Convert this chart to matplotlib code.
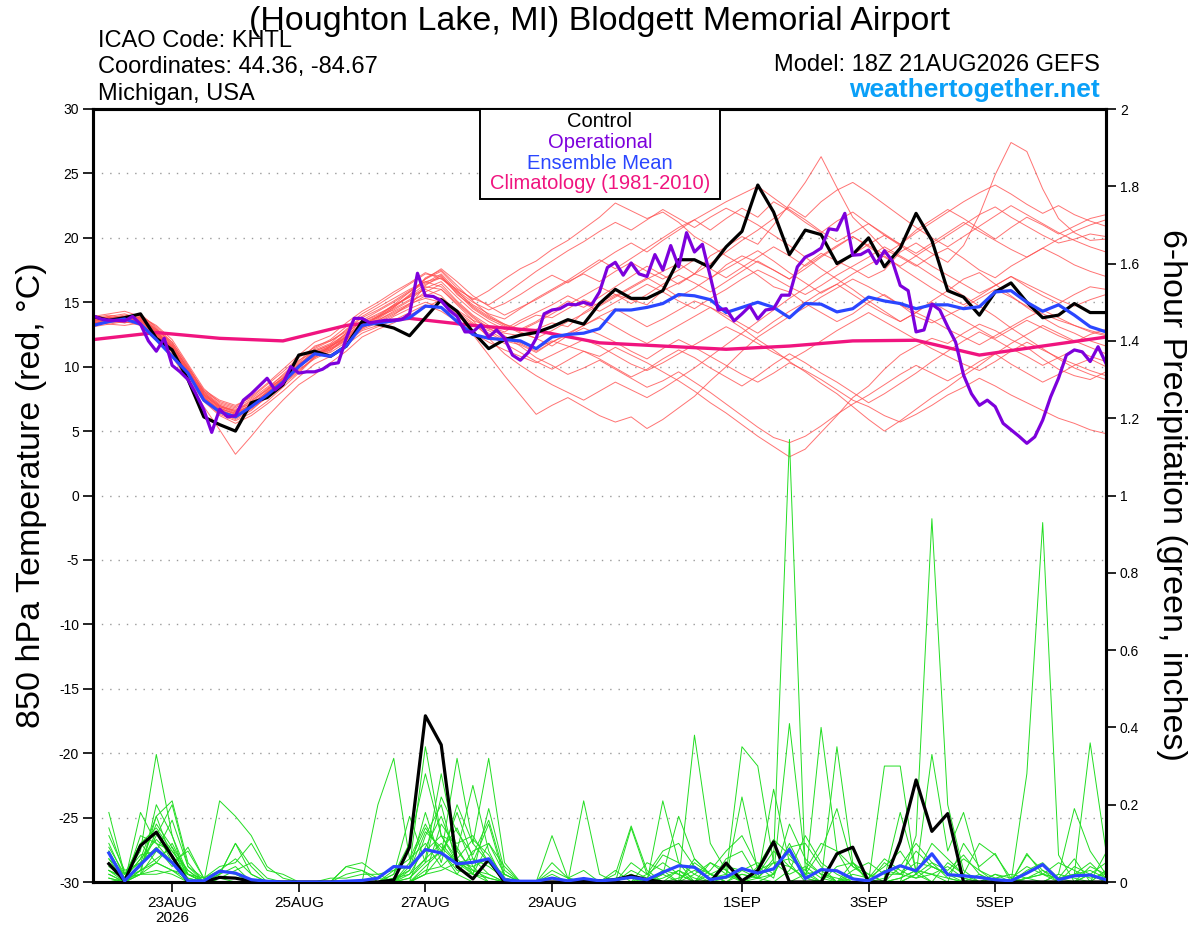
import matplotlib
matplotlib.use("Agg")
import matplotlib.pyplot as plt
import pandas as pd
from matplotlib.patches import Rectangle

# ---- time axes ----
times_6h = pd.date_range("2026-08-21 18:00", periods=65, freq="6h")
times_3h = pd.date_range("2026-08-21 18:00", periods=129, freq="3h")
precip_times = pd.date_range("2026-08-22 00:00", periods=64, freq="6h")
clim_times = pd.date_range("2026-08-21 18:00", periods=17, freq="D")

tick_dates = ["2026-08-23", "2026-08-25", "2026-08-27", "2026-08-29",
              "2026-09-01", "2026-09-03", "2026-09-05"]
tick_labels = ["23AUG\n2026", "25AUG", "27AUG", "29AUG", "1SEP", "3SEP", "5SEP"]

# ---- 850 hPa temperature (C) ----
control_temp = [13.9, 13.6, 13.8, 14.1, 12.2, 11.3, 9.0, 6.1, 5.5, 5.0,
                7.2, 7.6, 8.6, 10.9, 11.2, 10.8, 11.6, 13.5, 13.3, 13.0,
                12.4, 13.8, 15.2, 14.3, 12.7, 11.4, 12.1, 12.45, 12.65, 13.1,
                13.65, 13.3, 14.9, 16.0, 15.3, 15.3, 15.9, 18.3, 18.3, 17.7,
                19.3, 20.5, 24.1, 22.0, 18.7, 20.6, 20.25, 18.0, 18.7, 20.0,
                17.75, 19.2, 21.9, 19.8, 15.9, 15.4, 14.0, 15.8, 16.5, 15.0,
                13.8, 14.0, 14.9, 14.2, 14.2]

mean_temp = [13.2, 13.5, 13.7, 13.3, 12.1, 10.8, 9.5, 7.4, 6.5, 6.1,
             6.9, 7.8, 8.8, 10.0, 11.0, 10.8, 11.6, 13.2, 13.4, 13.55,
             13.8, 14.7, 14.6, 13.5, 12.5, 12.2, 12.1, 12.0, 11.4, 12.3,
             12.5, 12.6, 12.95, 14.4, 14.4, 14.6, 14.9, 15.6, 15.5, 15.2,
             14.2, 14.6, 15.0, 14.6, 13.8, 14.9, 14.85, 14.25, 14.5, 15.4,
             15.1, 14.9, 14.5, 14.8, 14.8, 14.5, 14.65, 15.8, 15.9, 15.0,
             14.3, 14.8, 14.0, 13.1, 12.7]

oper_temp = [13.95, 13.7, 13.6, 13.6, 13.55, 13.9, 13.3, 12.0, 11.2, 12.2,
             10.1, 9.6, 9.0, 7.9, 6.65, 4.9, 6.7, 6.1, 6.2, 7.4,
             7.9, 8.5, 9.1, 8.2, 8.7, 10.0, 9.5, 9.6, 9.6, 9.8,
             10.2, 10.3, 12.2, 13.75, 13.75, 13.4, 13.5, 13.6, 13.6, 13.65,
             14.1, 17.25, 15.5, 15.45, 15.1, 14.4, 13.9, 12.7, 12.7, 13.25,
             12.3, 12.85, 12.2, 10.9, 10.5, 11.1, 12.2, 14.1, 14.4, 14.5,
             14.85, 14.8, 15.0, 14.8, 15.8, 17.7, 18.1, 17.1, 18.05, 17.2,
             17.0, 18.7, 17.5, 19.4, 17.75, 20.4, 18.9, 19.5, 17.0, 14.4,
             14.5, 13.55, 14.1, 14.7, 13.7, 14.4, 14.5, 15.55, 15.55, 17.75,
             18.5, 18.8, 19.2, 20.7, 20.6, 21.9, 18.65, 18.7, 19.05, 18.0,
             19.0, 18.2, 16.3, 15.9, 12.7, 12.85, 14.85, 14.4, 13.1, 11.9,
             9.35, 7.9, 7.0, 7.4, 6.9, 5.6, 5.1, 4.6, 4.05, 4.55,
             5.85, 7.65, 9.1, 10.9, 11.3, 11.15, 10.4, 11.55, 10.25]

clim_temp = [12.1, 12.65, 12.2, 12.0, 13.2, 13.75, 13.2, 12.8, 11.85,
             11.6, 11.35, 11.6, 12.0, 12.05, 10.9, 11.6, 12.3]

temp_m01 = [13.6, 13.8, 13.9, 14.0, 12.9, 11.8, 9.8, 7.9, 6.9, 6.4, 7.0, 7.8, 8.9, 10.2, 11.0,
            11.4, 12.1, 13.0, 13.6, 14.2, 14.8, 15.5, 16.0, 14.9, 13.8, 12.9, 12.6, 12.4, 12.9, 13.4,
            13.1, 14.2, 15.0, 15.6, 15.2, 14.8, 15.9, 16.5, 17.2, 16.8, 17.9, 18.6, 18.1, 17.5, 16.8,
            17.9, 18.8, 18.2, 17.6, 16.9, 17.5, 18.9, 19.6, 18.8, 18.1, 19.4, 21.8, 24.9, 27.4, 26.7,
            23.8, 21.5, 20.4, 19.8, 19.9]
temp_m02 = [13.4, 13.5, 13.7, 13.6, 12.4, 11.2, 9.5, 7.6, 6.6, 6.2, 6.8, 7.9, 8.6, 9.6, 10.8,
            11.1, 11.9, 12.8, 13.2, 13.9, 14.5, 15.0, 14.6, 13.9, 13.2, 12.8, 12.1, 11.9, 11.4, 12.0,
            11.6, 11.2, 10.8, 11.5, 10.9, 10.3, 9.6, 8.9, 8.1, 7.2, 6.4, 5.5, 4.6, 3.8, 3.0,
            3.6, 4.9, 6.2, 7.6, 8.5, 9.8, 10.9, 11.6, 12.2, 11.8, 12.6, 13.3, 12.8, 12.1, 11.5,
            10.6, 9.8, 9.3, 9.0, 9.6]
temp_m03 = [13.9, 14.1, 14.3, 13.9, 13.2, 12.1, 10.2, 8.3, 7.2, 6.8, 7.5, 8.4, 9.3, 10.4, 11.6,
            12.0, 12.7, 13.6, 14.3, 15.0, 15.8, 16.8, 17.4, 16.1, 15.2, 15.9, 16.8, 17.6, 18.2, 19.1,
            19.8, 20.7, 21.6, 22.7, 22.1, 21.5, 22.0, 21.2, 20.1, 19.4, 18.6, 17.9, 17.1, 16.2, 15.8,
            14.9, 14.2, 13.5, 14.1, 15.0, 15.6, 14.8, 13.9, 13.4, 14.0, 14.6, 15.3, 16.0, 15.4, 14.7,
            14.1, 13.6, 13.2, 12.7, 12.4]
temp_m04 = [13.2, 13.4, 13.6, 13.8, 12.7, 11.5, 9.6, 7.7, 6.5, 6.0, 6.7, 7.6, 8.7, 9.8, 10.6,
            11.2, 12.4, 13.4, 13.9, 14.4, 15.1, 15.6, 15.3, 14.4, 13.6, 13.1, 12.7, 13.4, 14.0, 13.8,
            14.5, 15.2, 14.7, 15.4, 16.1, 16.8, 17.4, 18.0, 17.2, 18.6, 19.3, 20.1, 19.5, 21.0, 22.6,
            24.3, 26.3, 23.9, 21.6, 20.4, 19.1, 18.5, 17.8, 18.6, 19.2, 18.4, 17.5, 16.9, 17.8, 18.5,
            19.2, 18.6, 17.9, 17.4, 17.0]
temp_m05 = [13.5, 13.3, 13.5, 13.2, 12.0, 10.8, 8.9, 6.9, 5.1, 3.2, 4.6, 6.1, 7.4, 8.6, 9.4,
            10.3, 11.2, 12.3, 12.9, 13.4, 14.0, 14.6, 15.2, 14.3, 13.4, 12.6, 12.0, 11.7, 11.1, 11.9,
            12.6, 13.2, 13.9, 14.5, 13.8, 13.1, 13.7, 14.4, 15.1, 14.6, 14.0, 13.3, 12.6, 13.5, 14.3,
            15.0, 15.8, 16.4, 15.6, 14.8, 14.1, 13.5, 14.2, 15.1, 15.9, 16.8, 17.3, 16.4, 15.5, 14.6,
            13.8, 13.1, 12.6, 12.0, 11.6]
temp_m06 = [13.7, 13.9, 13.6, 13.9, 12.8, 11.4, 9.4, 7.4, 6.3, 5.8, 6.4, 7.3, 8.4, 9.5, 10.7,
            11.6, 12.3, 13.1, 13.5, 14.1, 14.7, 16.3, 17.1, 15.6, 14.7, 13.9, 13.2, 12.6, 12.2, 11.6,
            12.4, 13.0, 12.5, 11.9, 11.2, 10.6, 11.4, 12.1, 11.5, 10.8, 10.1, 9.4, 8.8, 9.5, 10.3,
            9.7, 9.0, 8.2, 7.4, 6.9, 6.2, 5.7, 6.3, 7.0, 7.8, 8.4, 9.1, 8.5, 7.8, 7.2,
            6.6, 6.0, 5.6, 5.1, 4.8]
temp_m07 = [13.3, 13.6, 13.8, 13.5, 12.5, 11.3, 9.7, 8.0, 7.0, 6.6, 7.3, 8.3, 9.1, 10.1, 11.3,
            11.8, 12.9, 13.9, 14.6, 15.3, 16.0, 16.6, 16.9, 15.8, 14.8, 14.1, 13.7, 14.5, 15.3, 16.0,
            16.7, 17.5, 18.3, 17.6, 18.4, 19.2, 20.0, 20.8, 21.4, 20.6, 21.5, 22.3, 21.6, 22.8, 22.1,
            21.2, 20.4, 21.3, 22.0, 21.1, 20.2, 19.5, 20.6, 21.4, 22.2, 21.5, 20.7, 19.9, 20.8, 21.6,
            21.0, 20.3, 20.9, 21.5, 21.8]
temp_m08 = [13.8, 13.7, 13.4, 13.6, 12.6, 11.6, 9.9, 8.1, 7.1, 6.7, 7.1, 8.0, 9.0, 10.0, 10.9,
            11.5, 12.6, 13.5, 14.0, 14.8, 15.4, 16.0, 15.5, 14.2, 12.5, 10.9, 9.3, 7.8, 6.3, 7.0,
            7.6, 6.9, 6.2, 5.7, 6.1, 5.2, 5.9, 6.8, 7.7, 8.9, 10.0, 11.2, 12.3, 13.1, 13.9,
            14.6, 15.4, 16.1, 16.8, 16.2, 15.5, 14.8, 14.2, 13.6, 12.9, 12.3, 11.7, 12.4, 13.1, 13.8,
            14.4, 13.8, 13.2, 12.8, 12.5]
temp_m09 = [13.6, 13.9, 14.1, 13.7, 12.6, 11.3, 9.3, 7.5, 6.4, 5.9, 6.6, 7.7, 8.8, 9.9, 10.9,
            11.3, 12.0, 12.9, 13.4, 14.0, 14.9, 15.8, 16.4, 15.1, 14.0, 13.2, 12.4, 11.6, 10.7, 10.1,
            9.4, 9.9, 10.5, 9.8, 9.1, 8.4, 8.9, 9.6, 8.8, 8.0, 7.1, 6.2, 5.3, 4.5, 4.1,
            4.6, 5.4, 6.3, 7.1, 7.8, 8.6, 9.4, 10.1, 9.5, 8.9, 9.6, 10.4, 11.0, 10.2, 9.5,
            8.8, 9.4, 10.1, 10.6, 10.0]
temp_m10 = [13.4, 13.6, 13.9, 14.1, 13.0, 11.7, 9.7, 7.9, 6.9, 6.5, 7.2, 8.2, 9.4, 10.5, 11.2,
            11.7, 12.5, 13.3, 13.8, 14.6, 15.5, 16.9, 17.5, 16.3, 15.1, 14.0, 13.3, 12.7, 12.2, 12.8,
            13.5, 14.1, 14.8, 15.5, 16.2, 16.9, 16.2, 15.4, 16.1, 16.9, 17.6, 18.3, 19.0, 18.2, 17.3,
            16.5, 15.7, 16.4, 17.2, 17.9, 18.6, 17.7, 16.9, 16.1, 15.4, 14.8, 15.5, 16.3, 17.0, 16.2,
            15.5, 14.9, 15.6, 16.2, 16.0]
temp_m11 = [13.1, 13.3, 13.2, 13.4, 12.3, 11.0, 9.1, 7.3, 6.2, 5.6, 6.2, 7.1, 8.1, 9.2, 10.2,
            10.8, 11.7, 12.6, 13.1, 13.6, 14.2, 14.8, 14.3, 13.5, 12.6, 11.9, 11.3, 10.8, 10.3, 10.9,
            11.5, 12.1, 11.6, 10.9, 10.2, 9.7, 10.3, 11.0, 11.7, 12.4, 13.1, 12.5, 11.8, 11.1, 10.5,
            11.2, 12.0, 12.8, 13.5, 14.2, 13.5, 12.8, 12.1, 11.4, 10.8, 10.2, 9.7, 10.4, 11.2, 11.9,
            11.3, 10.7, 10.2, 9.7, 9.3]
temp_m12 = [13.9, 13.8, 14.0, 13.8, 12.9, 11.9, 10.0, 8.2, 7.4, 7.0, 7.6, 8.6, 9.6, 10.7, 11.5,
            12.1, 13.1, 14.1, 14.8, 15.6, 16.4, 17.2, 17.0, 15.9, 15.0, 14.4, 14.9, 15.6, 16.4, 17.1,
            16.5, 17.3, 18.1, 18.9, 19.6, 18.9, 19.8, 20.6, 21.4, 22.1, 22.8, 23.4, 24.0, 23.1, 22.2,
            21.4, 20.5, 19.7, 20.4, 21.1, 20.3, 19.5, 18.8, 19.6, 20.4, 21.2, 20.5, 19.8, 19.1, 18.5,
            19.2, 19.9, 20.5, 21.0, 21.4]
temp_m13 = [13.5, 13.7, 13.5, 13.9, 12.7, 11.6, 9.8, 7.8, 6.8, 6.3, 6.9, 7.8, 8.9, 10.0, 10.8,
            11.4, 12.2, 13.0, 13.7, 14.5, 15.2, 16.1, 16.6, 15.4, 14.3, 13.5, 12.9, 13.6, 14.2, 14.8,
            15.5, 14.9, 14.3, 15.0, 15.7, 16.4, 15.8, 15.1, 14.5, 15.3, 16.0, 16.8, 17.5, 16.9, 16.2,
            15.6, 16.3, 17.1, 17.8, 18.5, 19.3, 18.6, 17.9, 17.1, 16.3, 15.5, 14.7, 13.9, 13.0, 12.2,
            11.4, 10.6, 9.9, 9.4, 9.0]
temp_m14 = [13.2, 13.5, 13.7, 13.4, 12.4, 11.2, 9.5, 7.7, 6.7, 6.2, 6.9, 7.9, 9.0, 10.1, 11.0,
            11.6, 12.4, 13.2, 13.9, 14.8, 15.8, 16.5, 17.2, 15.9, 14.6, 13.8, 13.3, 12.9, 13.5, 14.3,
            15.1, 14.6, 15.4, 16.2, 17.0, 17.8, 17.1, 16.4, 17.2, 18.0, 18.9, 19.8, 20.6, 21.5, 22.4,
            21.6, 22.8, 23.7, 24.3, 23.5, 22.6, 21.7, 20.8, 20.0, 19.3, 20.1, 20.9, 21.7, 22.5, 21.8,
            21.1, 20.4, 19.8, 19.3, 18.9]
temp_m15 = [13.6, 13.5, 13.8, 14.0, 13.1, 11.9, 10.1, 8.0, 7.0, 6.5, 7.0, 8.1, 9.2, 10.3, 11.4,
            12.0, 12.8, 13.8, 14.4, 15.1, 15.9, 16.6, 16.2, 15.0, 13.9, 13.0, 12.3, 11.8, 11.2, 11.9,
            12.5, 13.2, 13.8, 13.1, 12.4, 11.8, 12.5, 13.2, 13.9, 14.6, 13.8, 13.0, 12.1, 11.3, 10.4,
            9.6, 8.7, 7.9, 6.9, 5.9, 5.0, 5.8, 6.7, 7.6, 8.4, 9.3, 10.1, 11.0, 11.8, 12.5,
            13.2, 12.6, 12.0, 11.5, 11.0]
temp_m16 = [13.8, 14.0, 13.8, 13.6, 12.6, 11.4, 9.6, 7.6, 6.6, 6.1, 6.8, 7.7, 8.7, 9.7, 10.7,
            11.3, 12.1, 13.1, 13.8, 14.6, 15.6, 16.8, 17.6, 16.6, 15.5, 14.7, 14.0, 14.6, 15.2, 15.9,
            16.6, 17.2, 16.6, 17.4, 18.1, 17.4, 16.8, 17.5, 18.3, 17.6, 16.9, 17.7, 18.5, 19.3, 18.6,
            17.8, 18.6, 19.4, 20.1, 19.3, 18.5, 17.8, 18.6, 19.4, 20.2, 21.0, 21.8, 22.4, 21.6, 20.9,
            20.2, 19.6, 19.9, 20.3, 20.1]
temp_m17 = [13.3, 13.5, 13.4, 13.7, 12.5, 11.5, 9.6, 7.8, 6.9, 6.6, 7.4, 8.2, 9.1, 10.0, 11.1,
            11.6, 12.2, 13.0, 13.6, 14.3, 14.9, 15.3, 15.0, 14.1, 13.3, 12.4, 11.8, 11.1, 10.4, 9.8,
            10.5, 11.2, 10.6, 9.9, 9.2, 9.8, 10.6, 11.3, 10.7, 9.9, 9.2, 8.5, 9.3, 10.2, 11.0,
            10.3, 9.5, 8.8, 8.0, 7.2, 7.9, 8.7, 9.5, 10.4, 11.2, 12.0, 12.7, 12.1, 11.4, 10.8,
            10.1, 10.7, 11.3, 10.8, 10.4]
temp_m18 = [13.7, 13.6, 13.9, 13.8, 12.8, 11.7, 9.9, 8.1, 7.3, 6.9, 7.7, 8.7, 9.8, 10.9, 11.9,
            12.4, 13.4, 14.3, 15.0, 15.8, 16.5, 17.3, 16.8, 16.0, 15.3, 14.8, 15.6, 16.5, 17.4, 18.2,
            19.0, 19.7, 20.5, 21.2, 20.6, 21.4, 22.2, 21.5, 20.8, 21.6, 22.3, 21.7, 21.0, 20.2, 19.4,
            18.5, 17.6, 16.8, 16.0, 15.1, 14.3, 13.5, 14.2, 15.0, 14.3, 13.6, 12.9, 12.2, 12.9, 13.6,
            13.0, 12.4, 11.9, 12.5, 12.9]
temp_m19 = [13.5, 13.8, 13.6, 13.5, 12.5, 11.3, 9.4, 7.6, 6.7, 6.4, 7.0, 8.0, 9.1, 10.2, 11.2,
            11.7, 12.6, 13.5, 14.1, 14.7, 15.4, 16.2, 16.0, 14.8, 13.6, 12.2, 11.0, 10.1, 9.3, 8.6,
            8.0, 7.4, 8.1, 8.8, 8.2, 7.6, 8.3, 9.1, 9.9, 10.8, 11.7, 12.6, 13.5, 14.4, 15.3,
            16.1, 17.0, 17.8, 18.7, 19.5, 20.2, 19.4, 18.6, 17.8, 17.1, 16.4, 15.7, 16.3, 17.0, 16.4,
            15.8, 15.2, 14.7, 15.2, 15.6]
temp_m20 = [13.4, 13.7, 13.9, 13.7, 12.7, 11.5, 9.6, 7.8, 6.8, 6.3, 7.1, 8.0, 9.0, 10.1, 11.0,
            11.5, 12.3, 13.2, 13.9, 14.7, 15.5, 16.4, 16.9, 15.7, 14.5, 13.7, 13.1, 12.8, 13.4, 14.1,
            14.8, 15.5, 16.2, 15.6, 14.9, 15.6, 16.4, 17.1, 16.5, 15.8, 16.6, 17.4, 18.2, 17.5, 16.8,
            17.6, 18.5, 19.3, 20.1, 19.4, 18.7, 19.5, 20.4, 21.2, 22.0, 22.8, 23.5, 24.1, 23.4, 22.6,
            21.9, 22.5, 21.8, 21.3, 20.9]

member_temps = [temp_m01, temp_m02, temp_m03, temp_m04, temp_m05, temp_m06, temp_m07,
                temp_m08, temp_m09, temp_m10, temp_m11, temp_m12, temp_m13, temp_m14,
                temp_m15, temp_m16, temp_m17, temp_m18, temp_m19, temp_m20]

# ---- 6-hour precipitation (inches) ----
control_precip = [0.047, 0.003, 0.094, 0.129, 0.066, 0, 0, 0.012,
                  0.01, 0.002, 0, 0, 0, 0, 0, 0,
                  0, 0, 0.005, 0.09, 0.43, 0.355, 0.04, 0.008,
                  0.058, 0, 0, 0, 0, 0, 0.003, 0.003,
                  0.006, 0.016, 0.006, 0, 0, 0, 0, 0.049,
                  0.003, 0.03, 0.104, 0, 0, 0, 0.073, 0.09,
                  0, 0, 0.105, 0.264, 0.131, 0.177, 0, 0,
                  0, 0, 0, 0, 0, 0, 0, 0]

mean_precip = [0.075, 0.003, 0.045, 0.085, 0.05, 0.003, 0.003, 0.028,
               0.023, 0.006, 0.002, 0, 0, 0, 0, 0.002,
               0.004, 0.01, 0.04, 0.038, 0.084, 0.075, 0.047, 0.051,
               0.06, 0.006, 0.002, 0.002, 0.01, 0.003, 0.009, 0.003,
               0.006, 0.012, 0.006, 0.025, 0.042, 0.038, 0.006, 0.013,
               0.035, 0.023, 0.034, 0.084, 0.009, 0.032, 0.029, 0.008,
               0.003, 0.025, 0.042, 0.029, 0.073, 0.019, 0.016, 0.012,
               0.006, 0.003, 0.023, 0.045, 0.006, 0.016, 0.018, 0.006]

prcp_m01 = [0.18, 0.02, 0.08, 0.33, 0.12, 0, 0, 0, 0, 0, 0, 0, 0, 0, 0, 0,
            0, 0, 0.02, 0.17, 0.05, 0.08, 0.02, 0, 0, 0, 0, 0, 0, 0, 0, 0,
            0, 0.02, 0, 0.01, 0.03, 0, 0, 0.01, 0.02, 0.01, 0.06, 1.145, 0.03, 0, 0, 0.01,
            0, 0, 0, 0.02, 0.05, 0.01, 0, 0, 0, 0, 0.01, 0.03, 0, 0, 0.02, 0]
prcp_m02 = [0.1, 0.01, 0.06, 0.17, 0.21, 0.05, 0, 0, 0, 0, 0, 0, 0, 0, 0, 0,
            0, 0, 0, 0.04, 0.35, 0.12, 0.06, 0.02, 0, 0, 0, 0, 0, 0, 0, 0,
            0, 0, 0, 0, 0, 0, 0, 0, 0, 0, 0, 0, 0, 0, 0, 0,
            0, 0, 0, 0.12, 0.94, 0.2, 0.03, 0, 0, 0, 0, 0, 0, 0, 0, 0]
prcp_m03 = [0.05, 0, 0.18, 0.1, 0.05, 0.02, 0, 0.21, 0.17, 0.12, 0.04, 0.01, 0, 0, 0, 0,
            0, 0, 0, 0, 0, 0, 0, 0, 0, 0, 0, 0, 0.12, 0.01, 0.03, 0,
            0, 0, 0, 0, 0, 0, 0, 0, 0, 0, 0, 0, 0, 0, 0, 0,
            0, 0, 0, 0, 0, 0, 0, 0, 0, 0, 0.28, 0.93, 0.07, 0, 0, 0]
prcp_m04 = [0.12, 0.03, 0.05, 0.09, 0.04, 0.09, 0.01, 0, 0, 0, 0, 0, 0, 0, 0, 0,
            0, 0.2, 0.32, 0.06, 0.1, 0.04, 0.08, 0.03, 0.01, 0, 0, 0, 0, 0, 0, 0,
            0, 0, 0, 0.02, 0, 0, 0.05, 0.02, 0, 0.01, 0.02, 0.41, 0.05, 0.02, 0, 0,
            0, 0, 0, 0, 0, 0, 0, 0, 0, 0, 0, 0, 0, 0, 0, 0]
prcp_m05 = [0.02, 0, 0.03, 0.17, 0.06, 0.02, 0, 0, 0, 0, 0, 0, 0, 0, 0, 0.04,
            0.03, 0, 0.02, 0.1, 0.28, 0.12, 0.05, 0.04, 0, 0, 0, 0, 0, 0, 0.21, 0.02,
            0, 0, 0, 0, 0, 0.38, 0.1, 0.03, 0, 0, 0, 0, 0, 0.4, 0.08, 0.01,
            0, 0, 0, 0, 0, 0, 0, 0, 0.01, 0.02, 0.01, 0, 0, 0.02, 0.05, 0.01]
prcp_m06 = [0.03, 0.01, 0.02, 0.05, 0.03, 0, 0, 0.03, 0.06, 0.02, 0, 0, 0, 0, 0, 0,
            0, 0, 0.03, 0.06, 0.15, 0.07, 0.32, 0.1, 0.05, 0.02, 0, 0, 0, 0, 0, 0,
            0, 0.14, 0.02, 0, 0.01, 0.03, 0.01, 0.02, 0.35, 0.3, 0.05, 0.04, 0.01, 0, 0.35, 0.05,
            0, 0, 0.01, 0.03, 0, 0, 0, 0, 0, 0, 0, 0, 0, 0, 0, 0]
prcp_m07 = [0.08, 0, 0.12, 0.1, 0.08, 0.03, 0, 0.02, 0.1, 0.04, 0, 0, 0, 0, 0, 0,
            0, 0, 0, 0.03, 0.18, 0.05, 0.2, 0.1, 0.32, 0.05, 0, 0, 0, 0, 0, 0,
            0, 0, 0, 0.21, 0.05, 0, 0, 0, 0.02, 0.01, 0.24, 0.05, 0, 0, 0, 0,
            0, 0.3, 0.3, 0.02, 0, 0, 0, 0, 0, 0, 0, 0, 0, 0, 0, 0]
prcp_m08 = [0.06, 0.02, 0.07, 0.08, 0.05, 0.08, 0.01, 0.04, 0.05, 0.1, 0.03, 0.02, 0, 0, 0, 0.04,
            0.05, 0.02, 0, 0.02, 0.06, 0.28, 0.08, 0.25, 0.08, 0, 0, 0, 0.02, 0, 0, 0,
            0, 0, 0, 0, 0, 0, 0, 0, 0, 0, 0, 0, 0, 0, 0, 0,
            0, 0, 0, 0.02, 0.33, 0.08, 0.18, 0.03, 0, 0, 0, 0, 0, 0, 0, 0]
prcp_m09 = [0.03, 0, 0.04, 0.12, 0.2, 0.04, 0.01, 0, 0, 0, 0, 0, 0, 0, 0, 0,
            0, 0, 0, 0, 0.02, 0.15, 0.09, 0.02, 0.19, 0.03, 0, 0, 0, 0, 0, 0,
            0, 0.02, 0, 0.02, 0.17, 0.06, 0.02, 0, 0, 0, 0, 0, 0, 0, 0, 0,
            0, 0, 0, 0, 0, 0.05, 0.02, 0.1, 0.07, 0.01, 0, 0, 0.02, 0.19, 0.08, 0.02]
prcp_m10 = [0.01, 0, 0.02, 0.03, 0.02, 0, 0, 0.02, 0.04, 0, 0, 0, 0, 0, 0, 0,
            0, 0, 0, 0.01, 0.06, 0.1, 0.05, 0.06, 0.04, 0.01, 0, 0, 0.05, 0.01, 0, 0,
            0.02, 0.145, 0.03, 0, 0, 0.05, 0.02, 0.01, 0.22, 0.03, 0.05, 0.02, 0.04, 0.01, 0, 0.01,
            0, 0.01, 0.18, 0.03, 0.02, 0.04, 0.01, 0, 0.02, 0, 0.07, 0.03, 0.01, 0.02, 0.36, 0.08]
prcp_m11 = [0.14, 0.02, 0.05, 0.15, 0.09, 0, 0, 0, 0, 0, 0, 0, 0, 0, 0, 0,
            0, 0, 0, 0, 0.04, 0.08, 0.14, 0.04, 0.06, 0, 0, 0, 0, 0, 0, 0,
            0, 0, 0, 0, 0, 0, 0, 0, 0, 0, 0, 0, 0, 0, 0, 0,
            0, 0, 0, 0, 0, 0, 0.1, 0.04, 0.074, 0, 0.074, 0.02, 0.01, 0, 0, 0.076]
prcp_m12 = [0, 0.01, 0.1, 0.05, 0.03, 0.02, 0.01, 0.03, 0.02, 0, 0, 0, 0, 0, 0, 0.02,
            0.03, 0.01, 0, 0, 0.02, 0.03, 0.05, 0.02, 0.01, 0, 0, 0, 0, 0, 0, 0,
            0, 0.05, 0.02, 0.08, 0.1, 0.04, 0.02, 0, 0.03, 0.01, 0.05, 0.06, 0.03, 0.1, 0.08, 0.04,
            0.01, 0.04, 0.08, 0.02, 0.1, 0.06, 0.02, 0, 0.02, 0.01, 0.04, 0.02, 0.05, 0.03, 0.01, 0.02]
prcp_m13 = [0.02, 0, 0.03, 0.05, 0.1, 0.02, 0, 0, 0, 0, 0, 0, 0, 0, 0, 0,
            0, 0, 0, 0, 0.03, 0.04, 0.02, 0.08, 0.1, 0.02, 0, 0, 0, 0, 0, 0,
            0.03, 0, 0.01, 0.07, 0.05, 0.02, 0, 0.06, 0.08, 0.01, 0, 0, 0.02, 0.03, 0, 0.05,
            0.02, 0, 0.04, 0.1, 0.05, 0.03, 0.07, 0.02, 0, 0, 0.01, 0.02, 0, 0, 0, 0.03]
prcp_m14 = [0.05, 0.01, 0.02, 0.2, 0.12, 0.02, 0, 0, 0, 0, 0, 0, 0, 0, 0, 0,
            0, 0, 0, 0, 0.12, 0.2, 0.04, 0.05, 0.15, 0.01, 0, 0, 0, 0, 0, 0,
            0, 0, 0.05, 0.03, 0, 0.02, 0.05, 0.03, 0, 0, 0.02, 0.1, 0.02, 0, 0.04, 0.05,
            0, 0.03, 0.02, 0.08, 0.04, 0.02, 0, 0.02, 0, 0, 0.03, 0.05, 0.01, 0.06, 0, 0.03]
prcp_m15 = [0.08, 0.01, 0.04, 0.13, 0.05, 0, 0, 0.02, 0.1, 0.02, 0, 0, 0, 0, 0, 0,
            0, 0, 0, 0.05, 0.14, 0.08, 0.03, 0.02, 0.1, 0.04, 0, 0, 0, 0, 0, 0,
            0, 0, 0, 0, 0, 0, 0, 0, 0, 0, 0, 0, 0, 0, 0, 0,
            0, 0, 0, 0, 0, 0, 0, 0, 0, 0, 0, 0, 0, 0, 0, 0]
prcp_m16 = [0.01, 0, 0.02, 0.02, 0.03, 0.01, 0, 0.01, 0, 0, 0, 0, 0, 0, 0.01, 0.01,
            0.02, 0.02, 0.03, 0.04, 0.08, 0.12, 0.1, 0.12, 0.05, 0, 0, 0, 0, 0, 0, 0,
            0.01, 0.01, 0, 0.03, 0.02, 0, 0.02, 0.04, 0.03, 0.05, 0.02, 0.09, 0.1, 0.04, 0, 0.03,
            0.05, 0.02, 0.02, 0.05, 0.04, 0.02, 0.01, 0, 0, 0, 0.01, 0.02, 0.01, 0.02, 0.03, 0.01]
prcp_m17 = [0.04, 0.01, 0.06, 0.11, 0.07, 0.01, 0, 0, 0, 0, 0, 0, 0, 0, 0, 0,
            0, 0, 0.01, 0.02, 0.09, 0.17, 0.06, 0.11, 0.07, 0.01, 0, 0, 0, 0, 0, 0,
            0, 0, 0.02, 0.05, 0.02, 0, 0.03, 0.08, 0.12, 0.04, 0.01, 0.15, 0.06, 0.02, 0.01, 0,
            0, 0.05, 0.02, 0.01, 0.04, 0.02, 0.06, 0.03, 0.01, 0, 0, 0, 0, 0.04, 0.02, 0]
prcp_m18 = [0.06, 0, 0.02, 0.08, 0.16, 0.04, 0, 0, 0, 0, 0, 0, 0, 0, 0, 0,
            0, 0, 0, 0.01, 0.05, 0.22, 0.13, 0.07, 0.16, 0.02, 0, 0, 0, 0, 0, 0,
            0, 0, 0, 0, 0, 0.06, 0.02, 0, 0, 0.04, 0.11, 0.07, 0.02, 0.08, 0.19, 0.04,
            0.02, 0, 0.01, 0.03, 0.02, 0, 0, 0, 0, 0, 0, 0, 0.02, 0.01, 0, 0]
prcp_m19 = [0.03, 0.01, 0.03, 0.06, 0.09, 0.03, 0, 0.01, 0.03, 0.05, 0.01, 0, 0, 0, 0, 0,
            0, 0, 0, 0, 0.02, 0.07, 0.18, 0.06, 0.02, 0, 0, 0, 0, 0, 0, 0,
            0, 0, 0, 0, 0.03, 0.01, 0, 0, 0, 0, 0, 0.03, 0.12, 0.05, 0.02, 0,
            0, 0, 0, 0, 0, 0, 0, 0, 0, 0, 0, 0, 0, 0, 0.02, 0.05]
prcp_m20 = [0.09, 0.02, 0.1, 0.14, 0.08, 0.02, 0, 0, 0, 0, 0, 0, 0, 0, 0, 0,
            0, 0, 0.01, 0.03, 0.13, 0.09, 0.05, 0.03, 0.02, 0, 0, 0, 0.03, 0.01, 0, 0,
            0, 0.03, 0.01, 0, 0, 0, 0, 0, 0, 0.02, 0.08, 0.04, 0.01, 0, 0, 0.02,
            0.01, 0.06, 0.03, 0.01, 0.02, 0.01, 0, 0, 0, 0, 0, 0, 0, 0, 0.04, 0.02]

member_precips = [prcp_m01, prcp_m02, prcp_m03, prcp_m04, prcp_m05, prcp_m06, prcp_m07,
                  prcp_m08, prcp_m09, prcp_m10, prcp_m11, prcp_m12, prcp_m13, prcp_m14,
                  prcp_m15, prcp_m16, prcp_m17, prcp_m18, prcp_m19, prcp_m20]

# ---- styling ----
plt.rcParams["font.family"] = ["Liberation Sans", "DejaVu Sans"]
plt.rcParams["axes.unicode_minus"] = False
W, H = 1200, 927
c_oper = "#7d00dc"
c_mean = "#2a46ff"
c_clim = "#f0147f"
c_red = "#ff5050"
c_green = "#22dd22"

fig = plt.figure(figsize=(W / 100, H / 100), dpi=100)
ax = fig.add_axes([93 / W, 1 - 882 / H, 1013 / W, 773 / H])

def fx(px):
    return px / W

def fy(py):
    return 1 - py / H

# temperature
for m in member_temps:
    ax.plot(times_6h, m, color=c_red, lw=0.7, alpha=0.8, zorder=2)
ax.plot(clim_times, clim_temp, color=c_clim, lw=2.4, zorder=3)
ax.plot(times_6h, control_temp, color="black", lw=2.3, zorder=4)
ax.plot(times_6h, mean_temp, color=c_mean, lw=2.3, zorder=5)
ax.plot(times_3h, oper_temp, color=c_oper, lw=2.3, zorder=6)

ax.set_xlim(times_6h[0], times_6h[-1])
ax.set_ylim(-30, 30)
ax.set_yticks(range(-30, 31, 5))
ax.yaxis.grid(True, linestyle=(0, (1, 5)), color="#9a9a9a", lw=1)
ax.set_axisbelow(True)
ax.set_xticks(pd.to_datetime(tick_dates))
ax.set_xticklabels(tick_labels, fontsize=11, linespacing=1.1)
ax.tick_params(axis="x", direction="out", length=7, width=1.2, pad=3)
ax.tick_params(axis="y", direction="out", length=7, width=1.2, labelsize=10, pad=3)

# precipitation on the right axis
ax2 = ax.twinx()
for m in member_precips:
    ax2.plot(precip_times, m, color=c_green, lw=0.7, zorder=2)
ax2.plot(precip_times, control_precip, color="black", lw=2.3, zorder=4)
ax2.plot(precip_times, mean_precip, color=c_mean, lw=2.3, zorder=5)
ax2.set_ylim(0, 2)
ax2.set_xlim(times_6h[0], times_6h[-1])
p_ticks = [0, 0.2, 0.4, 0.6, 0.8, 1, 1.2, 1.4, 1.6, 1.8, 2]
ax2.set_yticks(p_ticks)
ax2.set_yticklabels([f"{t:g}" for t in p_ticks])
ax2.tick_params(axis="y", direction="out", length=7, width=1.2, labelsize=10, pad=3)

for a in (ax, ax2):
    for s in a.spines.values():
        s.set_linewidth(2.2)

# texts
fig.text(0.5, fy(30), "(Houghton Lake, MI) Blodgett Memorial Airport",
         ha="center", va="baseline", fontsize=24.5)
fig.text(fx(98), fy(47), "ICAO Code: KHTL", ha="left", va="baseline", fontsize=17)
fig.text(fx(98), fy(73), "Coordinates: 44.36, -84.67", ha="left", va="baseline", fontsize=17)
fig.text(fx(98), fy(100), "Michigan, USA", ha="left", va="baseline", fontsize=17)
fig.text(fx(1100), fy(71), "Model: 18Z 21AUG2026 GEFS", ha="right", va="baseline", fontsize=17)
fig.text(fx(1100), fy(97), "weathertogether.net", ha="right", va="baseline",
         fontsize=19, fontweight="bold", color="#0aa0f8")

fig.text(fx(32), fy(495), "850 hPa Temperature (red, \u00b0C)", rotation=90,
         ha="center", va="center", fontsize=24.5)
fig.text(fx(1172), fy(495), "6-hour Precipitation (green, inches)", rotation=270,
         ha="center", va="center", fontsize=24.5)

# legend box
fig.patches.append(Rectangle((fx(480), fy(199)), 240 / W, 90 / H, transform=fig.transFigure,
                             facecolor="white", edgecolor="black", lw=1.4, zorder=5))
legend_items = [("Control", "black"), ("Operational", c_oper),
                ("Ensemble Mean", c_mean), ("Climatology (1981-2010)", c_clim)]
for k, (txt, col) in enumerate(legend_items):
    fig.text(fx(600), fy(127 + 20.8 * k), txt, ha="center", va="baseline",
             fontsize=14.5, color=col, zorder=6)

fig.savefig("out.png", dpi=100)
